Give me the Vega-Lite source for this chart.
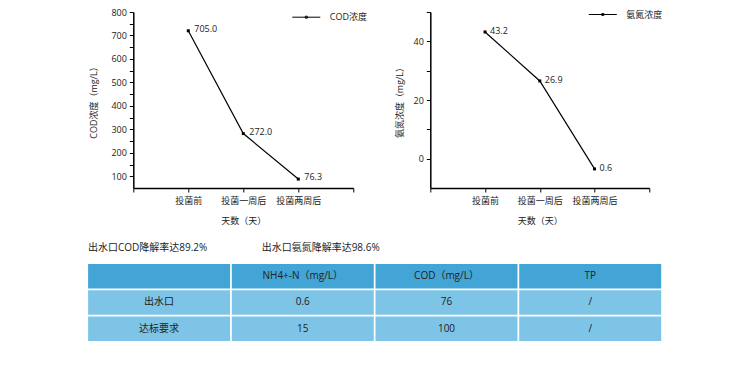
{
  "$schema": "https://vega.github.io/schema/vega-lite/v6.json",
  "background": "white",
  "padding": {"left": 87.3, "top": 0, "right": 5, "bottom": 5},
  "config": {
    "font": "Open Sans, Noto Sans CJK SC",
    "view": {"stroke": null},
    "axis": {
      "domainColor": "#000", "domainWidth": 1.5, "tickColor": "#000", "tickWidth": 1, "tickSize": 4,
      "labelFontSize": 9, "titleFontSize": 9, "titleFontWeight": "normal",
      "labelColor": "#222", "titleColor": "#222", "grid": false, "labelPadding": 3,
      "labelFont": "Open Sans, Noto Sans CJK SC", "titleFont": "Open Sans, Noto Sans CJK SC"
    },
    "legend": {"labelFont": "Open Sans, Noto Sans CJK SC"}
  },
  "spacing": 10.5,
  "resolve": {"scale": {"color": "independent", "x": "independent", "y": "independent"}, "legend": {"color": "independent"}},
  "vconcat": [
    {
      "spacing": 26,
      "resolve": {"scale": {"color": "independent", "x": "independent", "y": "independent"}, "legend": {"color": "independent"}},
      "hconcat": [
        {
          "width": 220, "height": 176,
          "data": {"values": [
            {"stage": 1, "value": 720, "label": "705.0", "series": "COD浓度"},
            {"stage": 2, "value": 282, "label": "272.0", "series": "COD浓度"},
            {"stage": 3, "value": 88, "label": "76.3", "series": "COD浓度"}
          ]},
          "encoding": {
            "x": {"field": "stage", "type": "quantitative", "scale": {"domain": [0, 4], "nice": false, "zero": false},
              "axis": {"values": [0, 1, 2, 3, 4], "labelExpr": "datum.value==1?'投菌前':datum.value==2?'投菌一周后':datum.value==3?'投菌两周后':''",
                "title": "天数（天）", "titlePadding": 11, "labelPadding": 5, "labelOverlap": false, "labelFlush": false}},
            "y": {"field": "value", "type": "quantitative", "scale": {"domain": [50, 800], "nice": false, "zero": false},
              "axis": {"values": [100, 150, 200, 250, 300, 350, 400, 450, 500, 550, 600, 650, 700, 750, 800],
                "labelExpr": "datum.value%100==0?datum.label:''", "title": "COD浓度（mg/L）", "titlePadding": 12, "labelOverlap": false}}
          },
          "layer": [
            {"mark": {"type": "line", "strokeWidth": 1.2},
              "encoding": {"color": {"field": "series", "type": "nominal", "scale": {"range": ["#000"]},
                "legend": {"orient": "none", "legendX": 158.5, "legendY": -9.3, "title": null,
                  "symbolType": "M-1,0H1M-0.07,-0.07H0.07V0.07H-0.07Z", "symbolSize": 784, "symbolStrokeWidth": 1,
                  "symbolStrokeColor": "#000", "labelFontSize": 9, "labelOffset": 9, "padding": 0, "labelColor": "#222"}}}},
            {"mark": {"type": "point", "shape": "square", "filled": true, "size": 9, "color": "#000", "opacity": 1}},
            {"mark": {"type": "text", "align": "left", "dx": 6, "dy": -2, "fontSize": 9, "color": "#222"},
              "encoding": {"text": {"field": "label"}}}
          ]
        },
        {
          "width": 219, "height": 176,
          "data": {"values": [
            {"stage": 1, "value": 43.2, "label": "43.2", "series": "氨氮浓度"},
            {"stage": 2, "value": 26.5, "label": "26.9", "series": "氨氮浓度"},
            {"stage": 3, "value": -3.5, "label": "0.6", "series": "氨氮浓度"}
          ]},
          "encoding": {
            "x": {"field": "stage", "type": "quantitative", "scale": {"domain": [0, 4], "nice": false, "zero": false},
              "axis": {"values": [0, 1, 2, 3, 4], "labelExpr": "datum.value==1?'投菌前':datum.value==2?'投菌一周后':datum.value==3?'投菌两周后':''",
                "title": "天数（天）", "titlePadding": 11, "labelPadding": 5, "labelOverlap": false, "labelFlush": false}},
            "y": {"field": "value", "type": "quantitative", "scale": {"domain": [-10, 50], "nice": false, "zero": false},
              "axis": {"values": [0, 10, 20, 30, 40, 50],
                "labelExpr": "(datum.value%20==0 && datum.value<50)?datum.label:''", "title": "氨氮浓度（mg/L）", "titlePadding": 9, "labelOverlap": false}}
          },
          "layer": [
            {"mark": {"type": "line", "strokeWidth": 1.2},
              "encoding": {"color": {"field": "series", "type": "nominal", "scale": {"range": ["#000"]},
                "legend": {"orient": "none", "legendX": 158, "legendY": -12, "title": null,
                  "symbolType": "M-1,0H1M-0.07,-0.07H0.07V0.07H-0.07Z", "symbolSize": 784, "symbolStrokeWidth": 1,
                  "symbolStrokeColor": "#000", "labelFontSize": 9, "labelOffset": 9, "padding": 0, "labelColor": "#222"}}}},
            {"mark": {"type": "point", "shape": "square", "filled": true, "size": 9, "color": "#000", "opacity": 1}},
            {"mark": {"type": "text", "align": "left", "dx": 5, "dy": -1, "fontSize": 9, "color": "#222"},
              "encoding": {"text": {"field": "label"}}}
          ]
        }
      ]
    },
    {
      "width": 174, "height": 16,
      "data": {"values": [
        {"k": "a", "t": "出水口COD降解率达89.2%"},
        {"k": "b", "t": "出水口氨氮降解率达98.6%"}
      ]},
      "mark": {"type": "text", "align": "left", "fontSize": 10, "color": "#222", "dy": 4},
      "encoding": {
        "x": {"field": "k", "type": "ordinal", "axis": null, "scale": {"type": "point", "padding": 0, "range": [-45.2, 128.5]}},
        "text": {"field": "t"}
      }
    },
    {
      "width": 573, "height": 77,
      "data": {"values": [
        {"r": 0, "c": 0, "t": "", "kind": "head"},
        {"r": 0, "c": 1, "t": "NH4+-N（mg/L）", "kind": "head"},
        {"r": 0, "c": 2, "t": "COD（mg/L）", "kind": "head"},
        {"r": 0, "c": 3, "t": "TP", "kind": "head"},
        {"r": 1, "c": 0, "t": "出水口", "kind": "body"},
        {"r": 1, "c": 1, "t": "0.6", "kind": "body"},
        {"r": 1, "c": 2, "t": "76", "kind": "body"},
        {"r": 1, "c": 3, "t": "/", "kind": "body"},
        {"r": 2, "c": 0, "t": "达标要求", "kind": "body"},
        {"r": 2, "c": 1, "t": "15", "kind": "body"},
        {"r": 2, "c": 2, "t": "100", "kind": "body"},
        {"r": 2, "c": 3, "t": "/", "kind": "body"}
      ]},
      "encoding": {
        "x": {"field": "c", "type": "ordinal", "axis": null, "scale": {"paddingInner": 0.012, "paddingOuter": 0, "range": [-45.2, 527.9]}},
        "y": {"field": "r", "type": "ordinal", "axis": null, "scale": {"paddingInner": 0.066, "paddingOuter": 0}}
      },
      "layer": [
        {"mark": {"type": "rect"},
          "encoding": {"color": {"field": "kind", "type": "nominal", "scale": {"domain": ["head", "body"], "range": ["#42A5D6", "#7EC4E6"]}, "legend": null}}},
        {"mark": {"type": "text", "fontSize": 10, "color": "#222"}, "encoding": {"text": {"field": "t"}}}
      ]
    }
  ]
}
